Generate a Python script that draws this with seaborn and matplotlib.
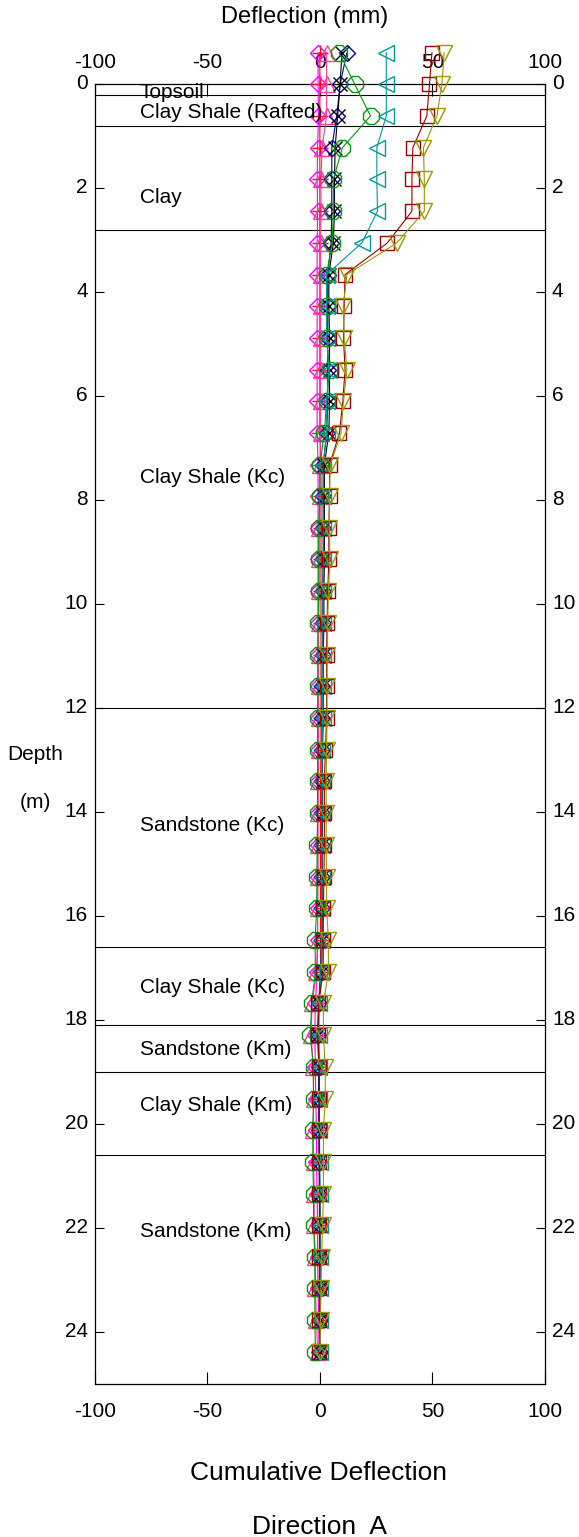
import numpy as np
import pandas as pd
import matplotlib
matplotlib.use("Agg")
import matplotlib.pyplot as plt
import matplotlib.transforms as mtransforms
import seaborn as sns

# ---------------- data ----------------
depths = [-0.61, 0.00, 0.61, 1.22, 1.83, 2.44, 3.05, 3.66, 4.27, 4.88, 5.49, 6.10, 6.71,
          7.32, 7.92, 8.53, 9.14, 9.75, 10.36, 10.97, 11.58, 12.19, 12.80, 13.41, 14.02,
          14.63, 15.24, 15.85, 16.46, 17.07, 17.68, 18.29, 18.90, 19.51, 20.12, 20.73,
          21.34, 21.95, 22.56, 23.16, 23.77, 24.38]

red_plus = [0, 0, 0, 0, 0, 0, 0, 0, 0, 0, 0, 0, 0, 0.5, 0.5, 0.5, 0.5, 0.5, 0.5, 0.5, 0.5,
            0.5, 0.5, 0.3, 0.3, 0.3, 0.3, 0.3, 0.3, 0.3, -0.5, -0.5, -0.3, -0.3, -0.3, -0.3,
            0, 0, 0, 0, 0, 0]
magenta_diamond = [-0.8, -0.8, -0.6, -1.0, -1.2, -1.0, -1.2, -1.2, -1.2, -1.2, -1.2, -1.2,
                   -1.2, -0.8, -0.8, -0.8, -0.8, -0.8, -0.8, -0.8, -0.8, -0.8, -0.8, -1.0,
                   -1.0, -1.0, -1.0, -1.0, -1.0, -1.2, -2.0, -2.2, -2.0, -1.8, -1.5, -1.5,
                   -1.2, -1.0, -1.0, -0.8, -0.5, -0.3]
pink_triangle = [3.0, 3.0, 3.0, 1.0, 0.5, 0.5, 0.3, 0.3, 0.3, 0.3, 0.3, 0.3, 0.3, 0.0, 0.0,
                 -0.3, -0.3, -0.3, -0.5, -0.5, -0.5, -0.5, -0.5, -0.6, -0.8, -0.8, -0.8,
                 -1.0, -1.0, -1.5, -3.5, -3.8, -3.0, -2.8, -3.0, -2.8, -2.5, -2.5, -2.0,
                 -2.0, -1.5, -1.0]
navy_diamond = [12.0, 9.0, 7.5, 5.3, 5.3, 5.3, 5.0, 3.5, 3.5, 3.5, 3.5, 3.5, 3.0, 1.5, 1.5,
                1.5, 1.5, 1.2, 1.2, 1.2, 1.0, 1.0, 1.0, 1.0, 0.8, 0.8, 0.8, 0.8, 0.8, 0.5,
                -0.5, -0.8, -0.5, -0.5, -0.3, -0.3, -0.2, 0, 0, 0, 0, 0]
black_x = [9.8, 9.0, 7.9, 6.8, 6.5, 6.5, 6.0, 4.0, 4.0, 4.3, 4.3, 4.3, 4.0, 2.0, 2.0, 2.0,
           2.0, 1.8, 1.8, 1.5, 1.5, 1.5, 1.2, 1.2, 1.2, 1.0, 1.0, 1.0, 1.0, 0.8, -0.5, -0.8,
           -0.5, -0.3, -0.3, -0.2, 0, 0, 0, 0, 0, 0]
green_octagon = [8.5, 15.5, 22.5, 10.0, 6.0, 6.0, 5.5, 3.0, 3.0, 3.0, 4.3, 3.0, 2.0, 0.0,
                 0.0, -0.5, -0.5, -0.5, -0.8, -0.9, -0.9, -1.0, -1.0, -1.0, -1.0, -1.2,
                 -1.3, -1.4, -2.1, -2.0, -3.6, -4.3, -2.8, -2.8, -3.1, -3.1, -2.8, -2.8,
                 -2.2, -2.2, -2.2, -2.0]
teal_triangle = [29.5, 29.5, 29.5, 25.3, 25.3, 25.6, 18.7, 3.0, 3.0, 3.0, 4.0, 3.0, 3.0,
                 1.5, 1.5, 1.5, 1.5, 1.3, 1.3, 1.3, 1.2, 1.2, 1.0, 1.0, 1.0, 0.8, 0.8, 0.8,
                 0.8, 0.5, -0.3, -0.5, -0.3, -0.2, -0.2, 0, 0, 0, 0, 0, 0, 0]
darkred_square = [49.8, 48.7, 47.5, 41.3, 40.9, 40.9, 30.0, 11.2, 10.8, 10.5, 11.2, 10.2,
                  8.7, 4.3, 4.3, 4.0, 4.0, 3.5, 3.2, 3.0, 3.0, 3.0, 2.5, 2.0, 2.0, 2.0, 1.8,
                  1.6, 1.5, 1.5, -0.6, -1.0, -0.2, -0.2, -0.2, -0.2, -0.2, -0.2, -0.2,
                  -0.2, -0.2, -0.2]
olive_triangle = [55.2, 54.2, 52.0, 46.0, 46.4, 46.4, 34.2, 12.0, 10.4, 10.8, 12.0, 10.5,
                  9.4, 4.6, 4.3, 4.2, 4.5, 3.8, 3.5, 3.3, 3.2, 3.2, 3.0, 2.8, 2.8, 2.8, 3.0,
                  3.0, 3.8, 3.8, 1.6, 1.6, 2.4, 2.4, 1.6, 1.6, 1.6, 1.2, 0.8, 0.5, 0.3, 0.0]

layer_bounds = [0.2, 0.8, 2.8, 12.0, 16.6, 18.1, 19.0, 20.6]
layer_names = ["Topsoil", "Clay Shale (Rafted)", "Clay", "Clay Shale (Kc)",
               "Sandstone (Kc)", "Clay Shale (Kc)", "Sandstone (Km)",
               "Clay Shale (Km)", "Sandstone (Km)"]
layer_label_depths = [0.15, 0.55, 2.17, 7.57, 14.26, 17.38, 18.56, 19.65, 22.07]

x_ticks = [-100, -50, 0, 50, 100]
y_ticks = [0, 2, 4, 6, 8, 10, 12, 14, 16, 18, 20, 22, 24]

series = [
    ("red_plus", red_plus, "#ff0000", "+", 11),
    ("magenta_diamond", magenta_diamond, "#ff00ff", "D", 8.5),
    ("pink_triangle", pink_triangle, "#ff3c9c", "^", 11),
    ("navy_diamond", navy_diamond, "#000099", "D", 8.5),
    ("black_x", black_x, "#000000", "x", 9.5),
    ("green_octagon", green_octagon, "#009900", "8", 12.5),
    ("teal_triangle", teal_triangle, "#009999", "<", 11),
    ("darkred_square", darkred_square, "#990000", "s", 10),
    ("olive_triangle", olive_triangle, "#999900", "v", 11),
]

# ---------------- style ----------------
sns.set_theme(style="white")
plt.rcParams["font.family"] = ["Liberation Sans", "DejaVu Sans"]
plt.rcParams["text.color"] = "black"
plt.rcParams["axes.edgecolor"] = "black"
plt.rcParams["axes.linewidth"] = 0.9

W, H = 579, 1537
fig = plt.figure(figsize=(W / 100, H / 100), dpi=100)
ax = fig.add_axes([94.7 / W, 1 - 1384 / H, (545 - 94.7) / W, (1384 - 84.3) / H])

for name, vals, col, mk, ms in series:
    df = pd.DataFrame({"defl": vals, "depth": depths})
    sns.lineplot(data=df, x="defl", y="depth", orient="y", sort=False, estimator=None,
                 ax=ax, color=col, linewidth=0.8, marker=mk, markersize=ms,
                 markerfacecolor="none", markeredgecolor=col, markeredgewidth=1.0,
                 clip_on=False, zorder=3)

for b in layer_bounds:
    ax.axhline(b, color="black", linewidth=0.8, zorder=2)

for name, d in zip(layer_names, layer_label_depths):
    ax.text(-80, d, name, fontsize=15, color="black", ha="left", va="center", zorder=4)

ax.set_xlim(-100, 100)
ax.set_ylim(25, 0)
ax.set_xticks(x_ticks)
ax.set_xticklabels([str(t) for t in x_ticks])
ax.set_yticks(y_ticks)
ax.set_yticklabels([str(t) for t in y_ticks])
ax.set_xlabel("")
ax.set_ylabel("")
ax.grid(False)

ax.tick_params(axis="x", which="both", direction="in", length=8.5, width=0.8,
               top=True, bottom=True, labeltop=True, labelbottom=True,
               labelsize=15, pad=13, colors="black")
ax.tick_params(axis="y", which="both", direction="in", length=6.5, width=0.8,
               left=True, right=True, labelleft=True, labelright=True,
               labelsize=15, pad=5, colors="black")

up = mtransforms.ScaledTranslation(0, 2.5 / 100, fig.dpi_scale_trans)
for tick in ax.yaxis.get_major_ticks():
    tick.label1.set_transform(tick.label1.get_transform() + up)
    tick.label2.set_transform(tick.label2.get_transform() + up)
down = mtransforms.ScaledTranslation(0, -6 / 100, fig.dpi_scale_trans)
for tick in ax.xaxis.get_major_ticks():
    tick.label2.set_transform(tick.label2.get_transform() + down)

for s in ax.spines.values():
    s.set_visible(True)
    s.set_color("black")
    s.set_linewidth(0.9)

fig.text(305 / W, 1 - 17 / H, "Deflection (mm)", fontsize=17, color="black", ha="center", va="center")
fig.text(35 / W, 1 - 754 / H, "Depth", fontsize=15, color="black", ha="center", va="center")
fig.text(35 / W, 1 - 803 / H, "(m)", fontsize=15, color="black", ha="center", va="center")
fig.text(319 / W, 1 - 1473 / H, "Cumulative Deflection", fontsize=19, color="black", ha="center", va="center")
fig.text(319 / W, 1 - 1527 / H, "Direction  A", fontsize=19, color="black", ha="center", va="center")

fig.savefig("out.png", dpi=100)
